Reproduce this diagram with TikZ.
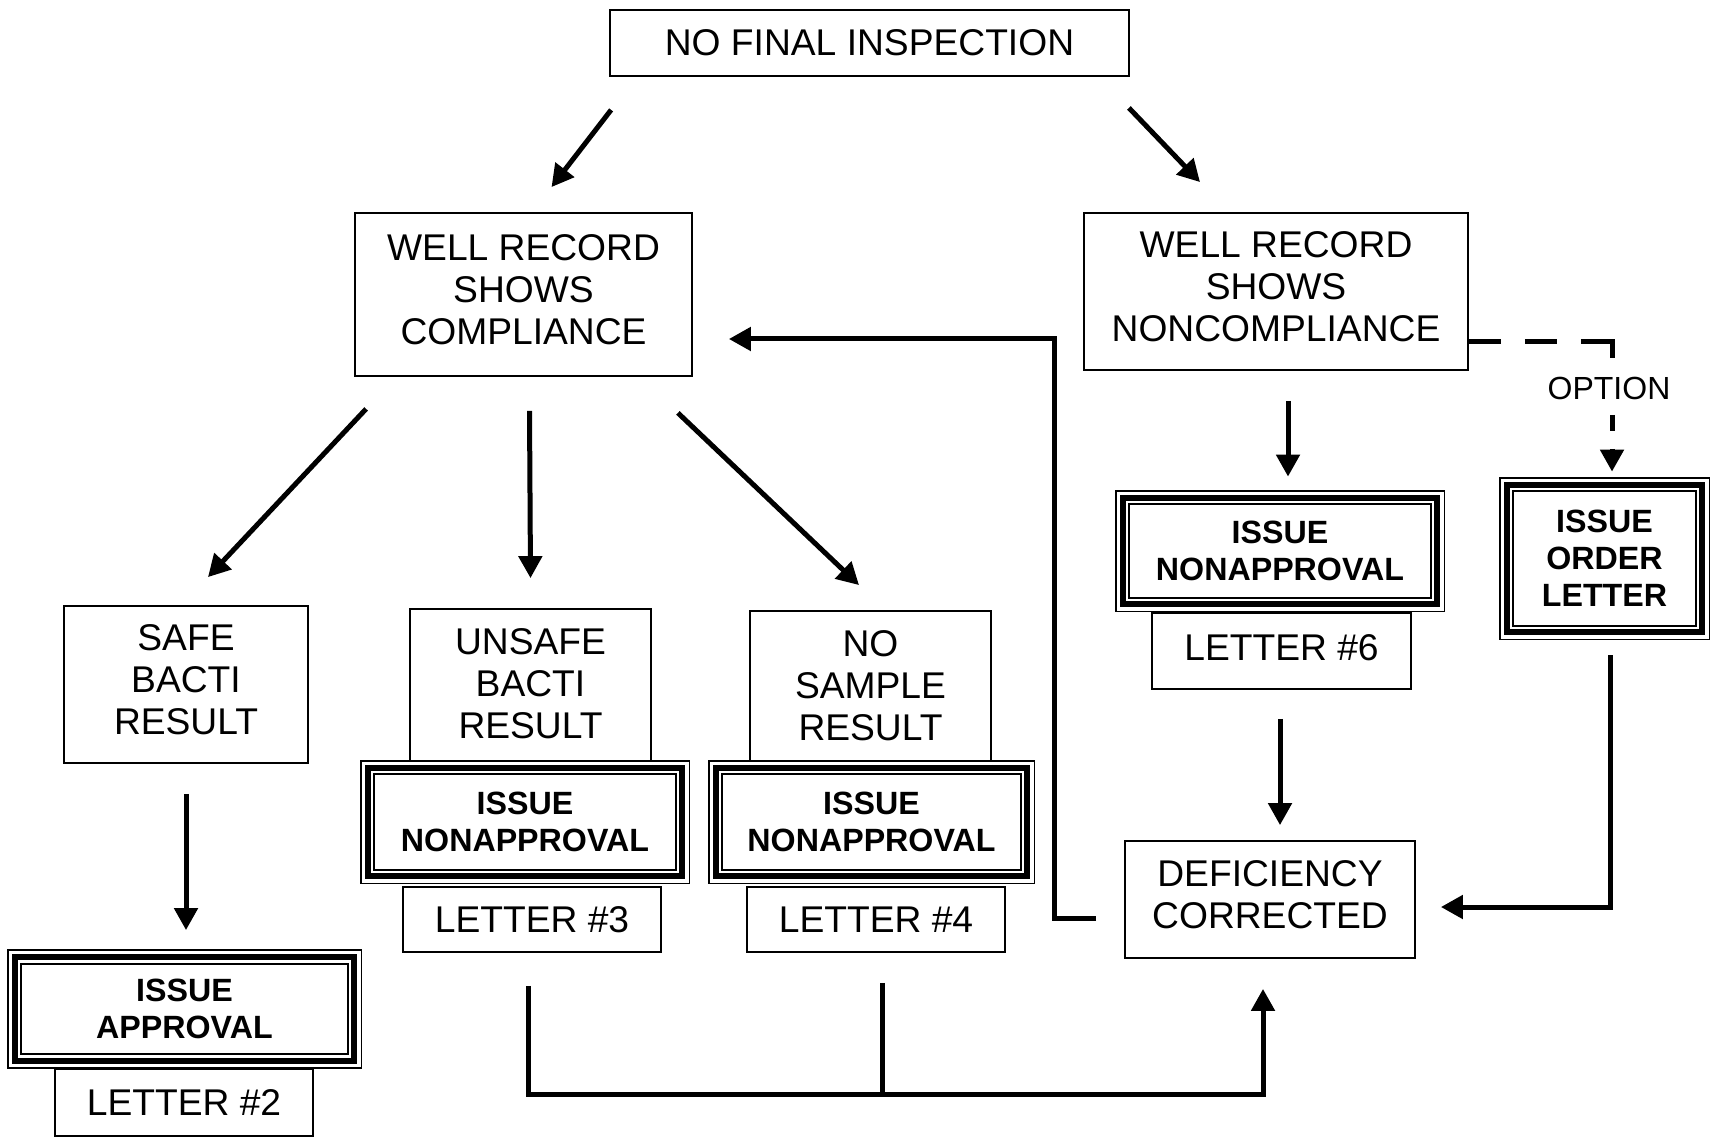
\documentclass[tikz,border=0pt]{standalone}
\usepackage{fontspec}
\setmainfont{Liberation Sans}
\usepackage{tikz}
\usetikzlibrary{arrows.meta}
\usetikzlibrary{calc}

\tikzset{
  box/.style={draw, line width=0.9pt, align=center, inner sep=0pt,
    font=\fontsize{18.6}{21}\selectfont},
  lines/.style={text depth=5pt},
  boldbox/.style={align=center, inner sep=0pt,
    font=\fontsize{16.1}{18.5}\selectfont\bfseries},
  flow/.style={line width=2.5pt},
}

% frame of three lines round a node: thin, thick, thin
\newcommand{\tripleframe}[1]{%
  \draw [line width=0.9pt] (#1.south west) rectangle (#1.north east);
  \draw [line width=3pt] ($(#1.south west)+(3.6pt,3.6pt)$) rectangle ($(#1.north east)-(3.6pt,3.6pt)$);
  \draw [line width=0.9pt] ($(#1.south west)+(6.8pt,6.8pt)$) rectangle ($(#1.north east)-(6.8pt,6.8pt)$);
}

\begin{document}
\begin{tikzpicture}[x=0.5pt,y=-0.5pt,>={Triangle[length=11pt,width=11.5pt]}]
\useasboundingbox (0,0) rectangle (1711,1138);

% boxes
\node [box, minimum width=259.5pt, minimum height=33pt] (top) at (869.5,43) {NO FINAL INSPECTION};
\node [box, lines, minimum width=168.5pt, minimum height=81.5pt] (comp) at (523.5,294.5) {WELL RECORD\\SHOWS\\COMPLIANCE};
\node [box, lines, minimum width=192pt, minimum height=78.5pt] (noncomp) at (1276,291.5) {WELL RECORD\\SHOWS\\NONCOMPLIANCE};
\node [box, lines, minimum width=122pt, minimum height=78.5pt] (safe) at (186,684.5) {SAFE\\BACTI\\RESULT};
\node [box, text depth=2.8pt, minimum width=120.5pt, minimum height=77.5pt] (unsafe) at (530.5,686.5) {UNSAFE\\BACTI\\RESULT};
\node [box, text depth=1.7pt, minimum width=120.5pt, minimum height=76.5pt] (nosample) at (870.5,687.5) {NO\\SAMPLE\\RESULT};

\node [boldbox, minimum width=164pt, minimum height=61pt, fill=white] (iss3) at (525,822) {ISSUE\\NONAPPROVAL};
\node [boldbox, minimum width=162.5pt, minimum height=61pt, fill=white] (iss4) at (871.5,822) {ISSUE\\NONAPPROVAL};
\node [boldbox, minimum width=176.5pt, minimum height=58.5pt] (appr) at (184.5,1009) {ISSUE\\APPROVAL};
\node [boldbox, minimum width=164pt, minimum height=60pt] (iss6) at (1280,551) {ISSUE\\NONAPPROVAL};
\node [boldbox, minimum width=104.5pt, minimum height=80.5pt] (order) at (1604.5,558.5) {ISSUE\\ORDER\\LETTER};
\tripleframe{iss3}
\tripleframe{iss4}
\tripleframe{appr}
\tripleframe{iss6}
\tripleframe{order}
% the upper boxes run into the frames
\draw [line width=0.9pt] (unsafe.south west) -- ++(0,4);
\draw [line width=0.9pt] (unsafe.south east) -- ++(0,4);
\draw [line width=0.9pt] (nosample.south west) -- ++(0,4);
\draw [line width=0.9pt] (nosample.south east) -- ++(0,4);

\node [box, minimum width=129pt, minimum height=32.5pt] (let3) at (532,919.5) {LETTER \#3};
\node [box, minimum width=129pt, minimum height=32.5pt] (let4) at (876,919.5) {LETTER \#4};
\node [box, minimum width=129pt, minimum height=33.5pt] (let2) at (184,1102.5) {LETTER \#2};
\node [box, text depth=3pt, minimum width=129.5pt, minimum height=38pt] (let6) at (1281.5,651) {LETTER \#6};
\node [box, lines, minimum width=145pt, minimum height=58.5pt] (defic) at (1270,899.5) {DEFICIENCY\\CORRECTED};
\node [inner sep=0pt, text height=11.5pt, text depth=0pt, font=\fontsize{16}{18}\selectfont] (opt) at (1609,388) {OPTION};

% arrows
\draw [flow] [->] ([xshift=1pt,yshift=-16.5pt]top.south west) -- ([xshift=14pt,yshift=12.5pt]comp.north);
\draw [flow] [->] ([xshift=-0.5pt,yshift=-15.5pt]top.south east) -- ([xshift=-38pt,yshift=15pt]noncomp.north);
\draw [flow] [->] ([xshift=6pt,yshift=-16pt]comp.south west) -- ([xshift=11pt,yshift=14pt]safe.north);
\draw [flow] [->] ([xshift=3pt,yshift=-17pt]comp.south) -- ([yshift=15pt]unsafe.north);
\draw [flow] [->] ([xshift=-7.5pt,yshift=-18pt]comp.south east) -- ([xshift=-5.75pt,yshift=12.5pt]nosample.north);
\draw [flow] [->] ([yshift=-15pt]safe.south) -- ([xshift=0.75pt,yshift=10pt]appr.north);
\draw [flow] [->] ([xshift=6pt,yshift=-15pt]noncomp.south) -- ([xshift=4pt,yshift=7pt]iss6.north);
\draw [flow] [->] ([xshift=-0.75pt,yshift=-14.5pt]let6.south) -- ([xshift=5pt,yshift=7.5pt]defic.north);
\draw [flow] [->] ([xshift=3pt,yshift=-8pt]order.south) |- ([xshift=12.5pt,yshift=-3.75pt]defic.east);
\draw [flow] [->] ([xshift=-14pt,yshift=-9.25pt]defic.west) -- ++(-42,0) |- ([xshift=18pt,yshift=-22.25pt]comp.east);

% dashed option
\draw [flow, dash pattern=on 16pt off 12pt on 16pt off 12pt on 24pt off 1pt]
  ([yshift=-25.25pt]noncomp.east) -| ([xshift=1.5pt,yshift=9pt]opt.north);
\draw [flow, dash pattern=on 8pt off 9pt] [->] ([xshift=1.5pt,yshift=-7.5pt]opt.south) -- ([xshift=3.75pt,yshift=3pt]order.north);

% joined lines to the bottom
\draw [flow] [->] ([xshift=-2pt,yshift=-16.5pt]let3.south) -- ++(0,109) coordinate (bus)
  -| ([xshift=-3.5pt,yshift=-15pt]defic.south);
\draw [flow] ([xshift=3pt,yshift=-15pt]let4.south) -- ([xshift=3pt]let4.south |- bus);
\end{tikzpicture}
\end{document}
